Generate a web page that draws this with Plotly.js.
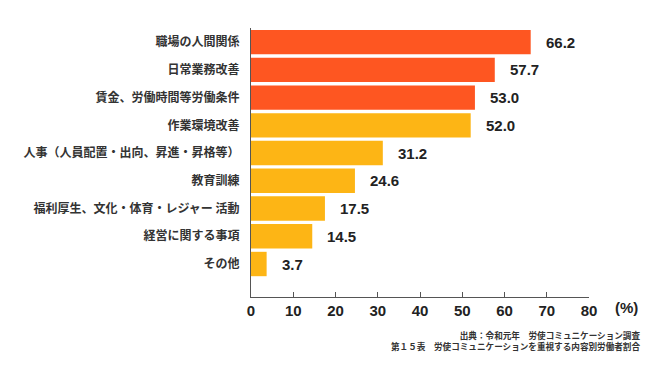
<!DOCTYPE html>
<html><head><meta charset="utf-8">
<script src="https://cdn.plot.ly/plotly-3.0.1.min.js"></script>
<style>html,body{margin:0;padding:0;background:#fff}#chart{width:670px;height:374px}</style>
</head><body><div id="chart"></div>
<script>
const categories = ["職場の人間関係","日常業務改善","賃金、労働時間等労働条件","作業環境改善","人事（人員配置・出向、昇進・昇格等）","教育訓練","福利厚生、文化・体育・レジャー 活動","経営に関する事項","その他"];
const values = [66.2, 57.7, 53.0, 52.0, 31.2, 24.6, 17.5, 14.5, 3.7];
const highlight = [true, true, true, false, false, false, false, false, false];
const xTicks = [0,10,20,30,40,50,60,70,80];
const unitLabel = "(%)";
const sourceLines = ["出典：令和元年　労使コミュニケーション調査","第１５表　労使コミュニケーションを重視する内容別労働者割合"];

const colors = highlight.map(h => h ? "#FE5621" : "#FDB515");
const trace = {
  type: "bar", orientation: "h",
  x: values, y: categories,
  marker: {color: colors, line: {width: 0}},
  width: 0.88,
  hoverinfo: "none"
};
const annotations = values.map((v, i) => ({
  x: v, y: categories[i], xref: "x", yref: "y",
  text: v.toFixed(1), showarrow: false, xanchor: "left", yanchor: "middle",
  xshift: 13,
  font: {family: "Liberation Sans, Arial, sans-serif", size: 15, color: "#222", weight: "bold"}
}));
annotations.push({
  x: 1.071, y: -0.04, xref: "paper", yref: "paper", text: unitLabel, showarrow: false,
  xanchor: "left", yanchor: "middle",
  font: {family: "Liberation Sans, Arial, sans-serif", size: 15, color: "#222", weight: "bold"}
});
annotations.push({
  x: 1.157, y: -0.162, xref: "paper", yref: "paper", text: sourceLines.join("<br>"), showarrow: false,
  xanchor: "right", yanchor: "middle", align: "right",
  font: {family: "Noto Sans CJK JP, sans-serif", size: 8.6, color: "#333", weight: "bold"}
});

const layout = {
  width: 670, height: 374,
  margin: {l: 251, r: 81, t: 28, b: 77, pad: 0},
  paper_bgcolor: "#fff", plot_bgcolor: "#fff",
  showlegend: false,
  xaxis: {
    range: [0, 80], tickvals: xTicks, ticktext: xTicks.map(String),
    showgrid: false, zeroline: false,
    showline: true, linecolor: "#555", linewidth: 1,
    ticks: "inside", ticklen: 5, tickcolor: "#555", tickwidth: 1,
    tickfont: {family: "Liberation Sans, Arial, sans-serif", size: 15, color: "#222", weight: "bold"},
    fixedrange: true
  },
  yaxis: {
    type: "category", range: [9.19, -0.51],
    showgrid: false, zeroline: false,
    showline: true, linecolor: "#555", linewidth: 1,
    ticks: "", ticklabelstandoff: 8,
    tickfont: {family: "Noto Sans CJK JP, sans-serif", size: 12, color: "#333", weight: "bold"},
    fixedrange: true
  },
  annotations: annotations
};
Plotly.newPlot("chart", [trace], layout, {displayModeBar: false, staticPlot: true});
</script></body></html>
